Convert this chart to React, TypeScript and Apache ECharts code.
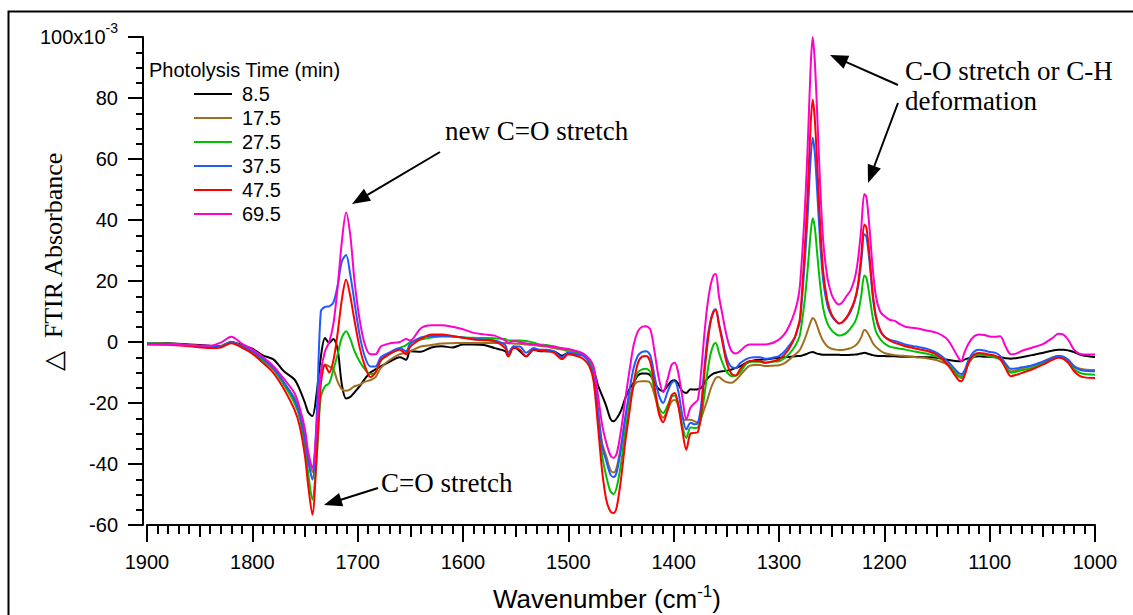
import React, { useEffect, useRef } from "react";
import * as echarts from "echarts";

// Wavenumber (cm^-1) sample positions, 1900 -> 1000
const wavenumbers = [
  1900, 1880, 1860, 1840, 1830, 1820, 1810, 1800, 1790, 1780,
  1770, 1760, 1755, 1750, 1747, 1743, 1739, 1735, 1731, 1727,
  1723, 1719, 1715, 1711, 1707, 1703, 1698, 1693, 1688, 1683,
  1678, 1670, 1660, 1654, 1650, 1640, 1630, 1620, 1610, 1600,
  1590, 1580, 1570, 1560, 1557, 1552, 1546, 1540, 1533, 1527,
  1521, 1514, 1506, 1500, 1492, 1486, 1480, 1476, 1472, 1468,
  1464, 1460, 1457, 1454, 1450, 1446, 1442, 1438, 1434, 1430,
  1426, 1422, 1418, 1414, 1410, 1406, 1402, 1399, 1396, 1392,
  1388, 1384, 1380, 1377, 1374, 1371, 1368, 1365, 1362, 1360,
  1357, 1354, 1351, 1348, 1345, 1341, 1337, 1332, 1328, 1323,
  1318, 1313, 1308, 1304, 1300, 1295, 1290, 1285, 1282, 1280,
  1276, 1273, 1270, 1268, 1266, 1264, 1261, 1258, 1254, 1250,
  1246, 1243, 1240, 1236, 1232, 1228, 1225, 1222, 1219, 1217,
  1214, 1211, 1208, 1204, 1200, 1195, 1190, 1185, 1180, 1170,
  1160, 1150, 1140, 1130, 1127, 1124, 1120, 1115, 1110, 1105,
  1100, 1095, 1090, 1085, 1080, 1075, 1070, 1060, 1050, 1040,
  1035, 1030, 1025, 1020, 1015, 1010, 1000,
];

// Delta FTIR absorbance (x10^-3) for each photolysis time
const t8_5 = [
  -0.5, -0.4, -0.8, -1.2, -1.3, 0.0, -1.0, -2.2, -4.4, -5.7,
  -9.6, -12.3, -15.6, -20.0, -23.0, -24.3, -17.0, -5.0, 1.3, -0.3,
  1.0, -2.5, -14.0, -18.5, -18.0, -16.5, -14.5, -12.0, -10.0, -9.0,
  -8.0, -6.5, -5.0, -5.8, -3.0, -3.2, -1.8, -1.4, -1.8, -0.8,
  -0.8, -1.0, -2.0, -3.0, -4.7, -1.5, -3.0, -4.7, -2.5, -3.0,
  -3.0, -3.0, -4.5, -3.5, -4.0, -4.3, -6.0, -9.0, -14.0, -17.5,
  -21.0, -25.2, -26.0, -25.0, -22.5, -18.5, -15.5, -13.4, -11.0, -10.3,
  -10.3, -11.0, -13.5, -15.5, -16.1, -14.5, -12.8, -12.5, -13.5, -16.0,
  -16.7, -15.5, -15.6, -15.5, -15.0, -13.5, -12.0, -11.0, -10.3, -10.1,
  -9.8, -9.6, -9.5, -9.3, -9.0, -8.5, -8.0, -7.0, -6.5, -6.0,
  -5.8, -5.7, -5.5, -5.3, -5.2, -5.0, -4.9, -4.7, -4.6, -4.6,
  -4.2, -3.8, -3.4, -3.3, -3.5, -3.8, -4.0, -4.2, -4.2, -4.2,
  -4.2, -4.2, -4.3, -4.3, -4.2, -4.1, -4.0, -3.8, -3.5, -3.7,
  -4.0, -4.3, -4.5, -4.6, -4.6, -4.7, -4.7, -4.8, -4.8, -4.9,
  -5.0, -5.2, -5.8, -6.3, -6.3, -5.8, -5.3, -4.8, -4.7, -4.8,
  -4.8, -5.0, -5.0, -5.3, -5.5, -5.3, -5.0, -4.3, -3.6, -2.8,
  -2.5, -2.5, -2.8, -3.3, -4.0, -4.5, -4.9,
];

const t17_5 = [
  -0.5, -0.6, -1.0, -1.5, -1.4, -0.2, -1.3, -3.0, -6.0, -9.0,
  -13.6, -18.3, -23.2, -30.9, -37.0, -42.6, -30.0, -10.0, -7.4, -8.0,
  -9.0, -13.0, -15.5, -16.0, -15.5, -14.5, -14.0, -13.0, -12.5, -11.5,
  -8.5, -6.0, -4.0, -3.5, -3.0, -1.5, -1.0, -0.5, -0.4, -0.3,
  -0.3, -0.3, -0.3, -0.3, -0.4, -0.5, -0.6, -0.8, -1.0, -1.3,
  -1.5, -2.0, -2.5, -3.0, -3.6, -4.2, -6.0, -10.0, -22.0, -33.0,
  -37.5, -42.0, -42.8, -41.0, -34.0, -25.0, -18.5, -14.5, -13.0, -12.9,
  -12.9, -13.5, -17.5, -22.5, -24.8, -22.5, -19.5, -19.0, -20.5, -25.0,
  -25.5, -25.5, -26.0, -26.5, -25.0, -22.0, -19.0, -15.5, -13.0, -11.8,
  -11.5, -12.3, -13.0, -13.3, -13.4, -12.5, -11.0, -9.0, -7.8, -7.5,
  -7.5, -7.9, -7.8, -7.7, -7.6, -7.0, -5.7, -4.2, -3.3, -2.5,
  0.5, 3.5, 6.5, 7.9, 7.2, 5.5, 2.5, 0.3, -1.5, -2.2,
  -2.5, -2.6, -2.6, -2.4, -2.0, -1.3, -0.3, 1.5, 3.9, 3.6,
  1.8, -0.3, -1.6, -2.8, -3.6, -4.0, -4.3, -4.5, -4.6, -5.0,
  -5.3, -6.0, -7.5, -10.8, -11.2, -10.0, -7.0, -4.8, -4.1, -4.3,
  -4.6, -4.9, -5.5, -7.8, -9.6, -9.3, -8.8, -7.9, -6.5, -5.0,
  -4.6, -4.9, -6.0, -7.8, -8.7, -9.0, -9.2,
];

const t27_5 = [
  -0.4, -0.6, -1.0, -1.5, -1.4, -0.2, -1.4, -3.2, -6.1, -9.0,
  -14.0, -20.0, -24.9, -34.2, -43.0, -51.7, -38.0, -18.0, -14.5, -13.5,
  -9.0, -4.0, 1.5, 3.5, 1.0, -3.0, -6.5, -9.0, -10.5, -10.0,
  -6.0, -4.0, -2.0, -1.0, 0.0, 0.8, 1.5, 1.8, 1.8, 1.5,
  1.4, 1.3, 1.2, 1.0, 0.5, 0.5, 0.5, 0.3, -0.2, -0.8,
  -1.0, -1.5, -2.2, -2.5, -3.3, -3.8, -6.0, -11.0, -24.0, -37.0,
  -44.0, -49.0, -49.8, -47.5, -40.0, -29.5, -21.0, -14.0, -10.0, -9.0,
  -8.8, -10.0, -16.0, -21.5, -23.3, -21.0, -18.0, -17.5, -20.0, -27.0,
  -31.5, -28.0, -28.2, -28.0, -25.0, -18.0, -10.0, -4.0, -0.8, -0.3,
  -3.5, -6.5, -9.0, -10.5, -11.2, -11.0, -10.0, -7.5, -6.5, -6.5,
  -6.5, -6.8, -6.6, -6.4, -6.3, -5.3, -3.8, -1.5, 0.5, 2.5,
  12.5, 23.0, 35.5, 40.6, 37.5, 30.0, 19.0, 11.0, 6.0, 3.8,
  2.6, 2.1, 2.3, 3.0, 4.5, 6.5, 9.5, 15.0, 21.8, 21.0,
  15.0, 8.0, 3.5, 1.0, -0.5, -1.5, -1.9, -2.2, -2.5, -3.2,
  -3.8, -4.8, -7.2, -11.2, -11.8, -10.5, -6.8, -4.5, -4.1, -4.3,
  -4.6, -5.0, -5.8, -8.0, -10.1, -9.8, -9.3, -8.5, -7.0, -5.5,
  -4.9, -5.2, -6.5, -8.8, -10.0, -10.5, -10.7,
];

const t37_5 = [
  -0.6, -0.7, -1.2, -1.7, -1.5, -0.2, -1.4, -3.0, -5.5, -8.5,
  -13.2, -18.9, -23.8, -32.0, -39.0, -45.1, -25.0, 10.0, 11.5, 11.7,
  13.0, 18.5, 26.5, 28.5, 22.0, 13.0, 2.0, -5.0, -8.0, -8.0,
  -5.0, -3.5, -2.0, -3.0, -0.5, 1.5, 2.0, 2.0, 1.8, 1.5,
  1.0, 0.8, 0.5, -1.0, -3.6, -1.5, -1.5, -3.5, -2.0, -2.5,
  -2.5, -3.0, -5.0, -3.5, -4.0, -4.5, -7.0, -11.5, -22.0, -34.0,
  -39.0, -43.5, -44.3, -42.5, -35.0, -25.0, -16.0, -8.5, -4.5, -3.2,
  -3.0, -4.6, -11.5, -17.5, -20.0, -16.5, -13.4, -12.9, -15.5, -23.5,
  -28.7, -26.5, -27.0, -26.5, -21.0, -9.0, 1.0, 7.0, 10.3, 10.7,
  6.0, 1.5, -3.6, -6.8, -8.2, -8.5, -7.0, -5.8, -5.2, -5.0,
  -5.0, -5.5, -5.3, -5.0, -4.6, -3.2, -1.0, 1.5, 4.5, 7.0,
  24.0, 40.0, 60.0, 67.0, 62.0, 51.0, 33.0, 20.0, 12.0, 8.5,
  6.8, 6.1, 6.4, 7.8, 10.0, 13.5, 18.0, 26.0, 35.3, 34.5,
  26.0, 15.0, 8.0, 3.6, 1.8, 0.8, 0.3, -0.2, -0.8, -1.5,
  -2.2, -3.6, -6.3, -10.0, -10.5, -9.5, -5.8, -3.2, -2.5, -2.8,
  -3.3, -3.5, -4.6, -7.0, -8.8, -8.7, -8.3, -7.7, -6.5, -5.2,
  -4.6, -4.8, -6.0, -8.0, -9.0, -9.4, -9.6,
];

const t47_5 = [
  -0.7, -0.9, -1.4, -2.0, -1.8, -0.4, -1.8, -3.8, -6.8, -10.1,
  -15.4, -22.2, -27.6, -37.5, -47.0, -56.6, -38.0, -14.0, -7.5, -10.0,
  -6.0, 3.0, 14.0, 20.5, 15.0, 7.0, -2.0, -8.0, -11.5, -10.0,
  -6.0, -4.0, -2.5, -4.0, -1.5, 1.0, 2.5, 2.5, 2.0, 1.4,
  0.8, 0.6, 0.2, -2.0, -4.7, -2.0, -2.5, -4.7, -2.5, -2.8,
  -3.0, -3.5, -5.6, -4.0, -4.6, -5.5, -8.0, -13.0, -27.0, -42.0,
  -51.7, -55.6, -56.1, -54.0, -45.0, -33.0, -23.0, -13.5, -7.0, -4.8,
  -4.6, -6.8, -15.0, -23.5, -26.3, -22.5, -17.5, -16.7, -20.0, -28.5,
  -35.3, -30.0, -29.8, -29.5, -24.0, -11.0, -1.0, 6.5, 10.0, 10.4,
  5.5, 0.5, -5.0, -8.5, -10.5, -11.0, -9.0, -7.0, -6.2, -6.2,
  -6.3, -6.8, -6.5, -6.2, -5.7, -4.2, -2.0, 1.5, 5.0, 8.0,
  28.0, 47.0, 71.0, 79.5, 73.0, 60.0, 39.0, 23.0, 13.5, 9.0,
  7.0, 6.1, 6.5, 8.0, 10.5, 14.0, 19.0, 28.0, 38.5, 37.5,
  28.0, 16.0, 8.5, 4.0, 1.8, 0.5, -0.3, -0.8, -1.4, -2.2,
  -2.9, -4.2, -7.4, -12.3, -12.9, -11.2, -6.8, -4.2, -3.6, -3.8,
  -4.2, -4.5, -5.5, -8.5, -11.2, -10.8, -10.2, -9.0, -7.5, -5.8,
  -5.2, -5.5, -7.0, -9.5, -11.0, -11.6, -11.8,
];

const t69_5 = [
  -0.8, -0.8, -1.1, -1.2, -0.2, 1.7, -0.5, -2.4, -4.9, -7.9,
  -12.1, -16.7, -21.6, -28.7, -36.0, -41.3, -28.0, -10.0, -3.0, 0.0,
  6.0, 18.0, 33.0, 42.5, 35.0, 20.0, 7.0, -1.0, -4.0, -4.0,
  -1.5, -0.5, 0.0, 1.0, 0.5, 4.5, 5.5, 5.5, 5.0, 4.2,
  3.0, 2.5, 2.1, 0.5, -0.3, 0.3, 0.0, -0.5, -0.7, -1.0,
  -1.2, -1.5, -2.0, -2.3, -3.0, -3.8, -5.5, -8.0, -17.0, -27.0,
  -33.0, -37.2, -38.0, -36.5, -29.0, -19.0, -9.5, -1.0, 3.5, 5.0,
  5.2, 4.0, -3.5, -12.0, -16.5, -12.5, -7.5, -6.8, -9.5, -17.5,
  -25.4, -21.5, -20.0, -18.9, -10.0, 2.0, 12.0, 18.5, 22.0, 22.3,
  15.0, 9.5, 4.0, -0.3, -3.0, -3.8, -3.0, -1.4, -0.8, -0.8,
  -0.8, -0.8, -0.5, 0.0, 0.8, 2.5, 5.5, 10.0, 14.0, 19.0,
  40.0, 62.0, 90.0, 100.0, 92.0, 77.0, 52.0, 33.0, 21.0, 15.5,
  13.0, 12.3, 13.0, 15.0, 17.0, 21.0, 27.0, 37.0, 48.5, 47.5,
  37.0, 24.0, 15.0, 10.0, 8.5, 7.3, 6.9, 5.8, 5.0, 4.5,
  3.8, 3.0, 0.8, -5.0, -6.3, -3.5, -0.5, 1.8, 2.5, 2.3,
  1.8, 1.7, 1.9, -1.4, -4.0, -3.8, -3.0, -1.9, -0.8, 1.4,
  2.7, 2.4, 0.5, -2.5, -3.8, -4.1, -4.1,
];

const seriesNames = ["8.5", "17.5", "27.5", "37.5", "47.5", "69.5"];
const seriesValues = [t8_5, t17_5, t27_5, t37_5, t47_5, t69_5];
const seriesColors = ["#000000", "#A06E1E", "#00C000", "#1E5AFF", "#FF0000", "#FF00CC"];

const SANS = "Liberation Sans";
const SERIF = "Liberation Serif";

function arrow(x1: number, y1: number, x2: number, y2: number) {
  const dx = x2 - x1;
  const dy = y2 - y1;
  const len = Math.hypot(dx, dy);
  const ux = dx / len;
  const uy = dy / len;
  const hl = 18;
  const hw = 7;
  const bx = x2 - ux * hl;
  const by = y2 - uy * hl;
  return [
    {
      type: "line",
      shape: { x1, y1, x2: bx + ux * 2, y2: by + uy * 2 },
      style: { stroke: "#000", lineWidth: 2 },
    },
    {
      type: "polygon",
      shape: {
        points: [
          [x2, y2],
          [bx - uy * hw, by + ux * hw],
          [bx + uy * hw, by - ux * hw],
        ],
      },
      style: { fill: "#000" },
    },
  ];
}

function label(text: string, x: number, y: number) {
  return {
    type: "text",
    x,
    y,
    style: {
      text,
      fontSize: 27,
      fontFamily: SERIF,
      fill: "#000",
      align: "left",
      verticalAlign: "middle",
    },
  };
}

export default function App() {
  const ref = useRef<HTMLDivElement>(null);

  useEffect(() => {
    const chart = echarts.init(ref.current!, null, { renderer: "svg" });

    const series = seriesValues.map((vals, k) => ({
      name: seriesNames[k],
      type: "line",
      xAxisIndex: 0,
      yAxisIndex: 0,
      data: wavenumbers.map((w, i) => [w, vals[i]]),
      symbol: "none",
      showSymbol: false,
      smooth: 0.3,
      lineStyle: { color: seriesColors[k], width: 2 },
      itemStyle: { color: seriesColors[k] },
      z: 2 + k,
    }));

    const axisLineStyle = { color: "#000", width: 2 };

    const option: any = {
      animation: false,
      backgroundColor: "#fff",
      grid: { left: 147, right: 38, top: 37, bottom: 90, containLabel: false },
      legend: {
        orient: "vertical",
        left: 194,
        top: 82,
        padding: 0,
        itemGap: 0,
        itemWidth: 38,
        itemHeight: 2,
        icon: "rect",
        selectedMode: false,
        data: seriesNames,
        textStyle: {
          fontSize: 20,
          fontFamily: SANS,
          color: "#000",
          lineHeight: 24,
          padding: [0, 0, 0, 5],
        },
      },
      xAxis: [
        {
          type: "value",
          min: 1000,
          max: 1900,
          interval: 100,
          inverse: true,
          position: "bottom",
          axisLine: { show: true, onZero: false, lineStyle: axisLineStyle },
          axisTick: { show: true, length: 17, lineStyle: axisLineStyle },
          minorTick: { show: true, splitNumber: 10, length: 9, lineStyle: axisLineStyle },
          splitLine: { show: false },
          minorSplitLine: { show: false },
          axisLabel: {
            fontSize: 20,
            fontFamily: SANS,
            color: "#000",
            margin: 27,
            formatter: (v: number) => String(v),
          },
        },
        {
          type: "value",
          min: 1000,
          max: 1900,
          interval: 50,
          inverse: true,
          position: "bottom",
          axisLine: { show: false, onZero: false },
          axisTick: { show: true, length: 12, lineStyle: axisLineStyle },
          splitLine: { show: false },
          axisLabel: { show: false },
        },
      ],
      yAxis: {
        type: "value",
        min: -60,
        max: 100,
        interval: 20,
        offset: 4,
        axisLine: { show: true, onZero: false, lineStyle: axisLineStyle },
        axisTick: { show: true, length: 15, lineStyle: axisLineStyle },
        minorTick: { show: true, splitNumber: 4, length: 7, lineStyle: axisLineStyle },
        splitLine: { show: false },
        minorSplitLine: { show: false },
        axisLabel: {
          fontSize: 20,
          fontFamily: SANS,
          color: "#000",
          margin: 25,
          formatter: (v: number) => (v === 100 ? "{m|100x10}{s|-3}" : String(v)),
          rich: {
            m: { fontSize: 20, fontFamily: SANS, color: "#000" },
            s: { fontSize: 14, fontFamily: SANS, color: "#000", padding: [0, 0, 18, 0] },
          },
        },
      },
      graphic: [
        {
          type: "rect",
          shape: { x: 8.5, y: 11.5, width: 1200, height: 800 },
          style: { fill: "none", stroke: "#000", lineWidth: 2 },
          silent: true,
        },
        {
          type: "text",
          x: 149,
          y: 70,
          style: {
            text: "Photolysis Time (min)",
            fontSize: 20,
            fontFamily: SANS,
            fill: "#000",
            align: "left",
            verticalAlign: "middle",
          },
        },
        {
          type: "text",
          x: 53,
          y: 262,
          rotation: Math.PI / 2,
          style: {
            text: "\u25B3  FTIR Absorbance",
            fontSize: 26,
            fontFamily: SERIF,
            fill: "#000",
            align: "center",
            verticalAlign: "middle",
          },
        },
        {
          type: "text",
          x: 607,
          y: 599,
          style: {
            text: "{a|Wavenumber (cm}{b|-1}{a|)}",
            fill: "#000",
            align: "center",
            verticalAlign: "middle",
            rich: {
              a: { fontSize: 26, fontFamily: SANS, fill: "#000" },
              b: { fontSize: 17, fontFamily: SANS, fill: "#000", padding: [0, 0, 16, 0] },
            },
          },
        },
        label("new C=O stretch", 445, 130.5),
        label("C=O stretch", 381, 483),
        label("C-O stretch or C-H", 905, 71),
        label("deformation", 905, 101),
        ...arrow(440, 152, 352, 204),
        ...arrow(378, 488, 324, 505),
        ...arrow(898, 85, 830, 55),
        ...arrow(898, 103, 868, 183),
      ],
      series,
    };

    chart.setOption(option);
    return () => chart.dispose();
  }, []);

  return (
    <div
      ref={ref}
      style={{ position: "fixed", left: 0, top: 0, width: 1133, height: 615, background: "#fff" }}
    />
  );
}
